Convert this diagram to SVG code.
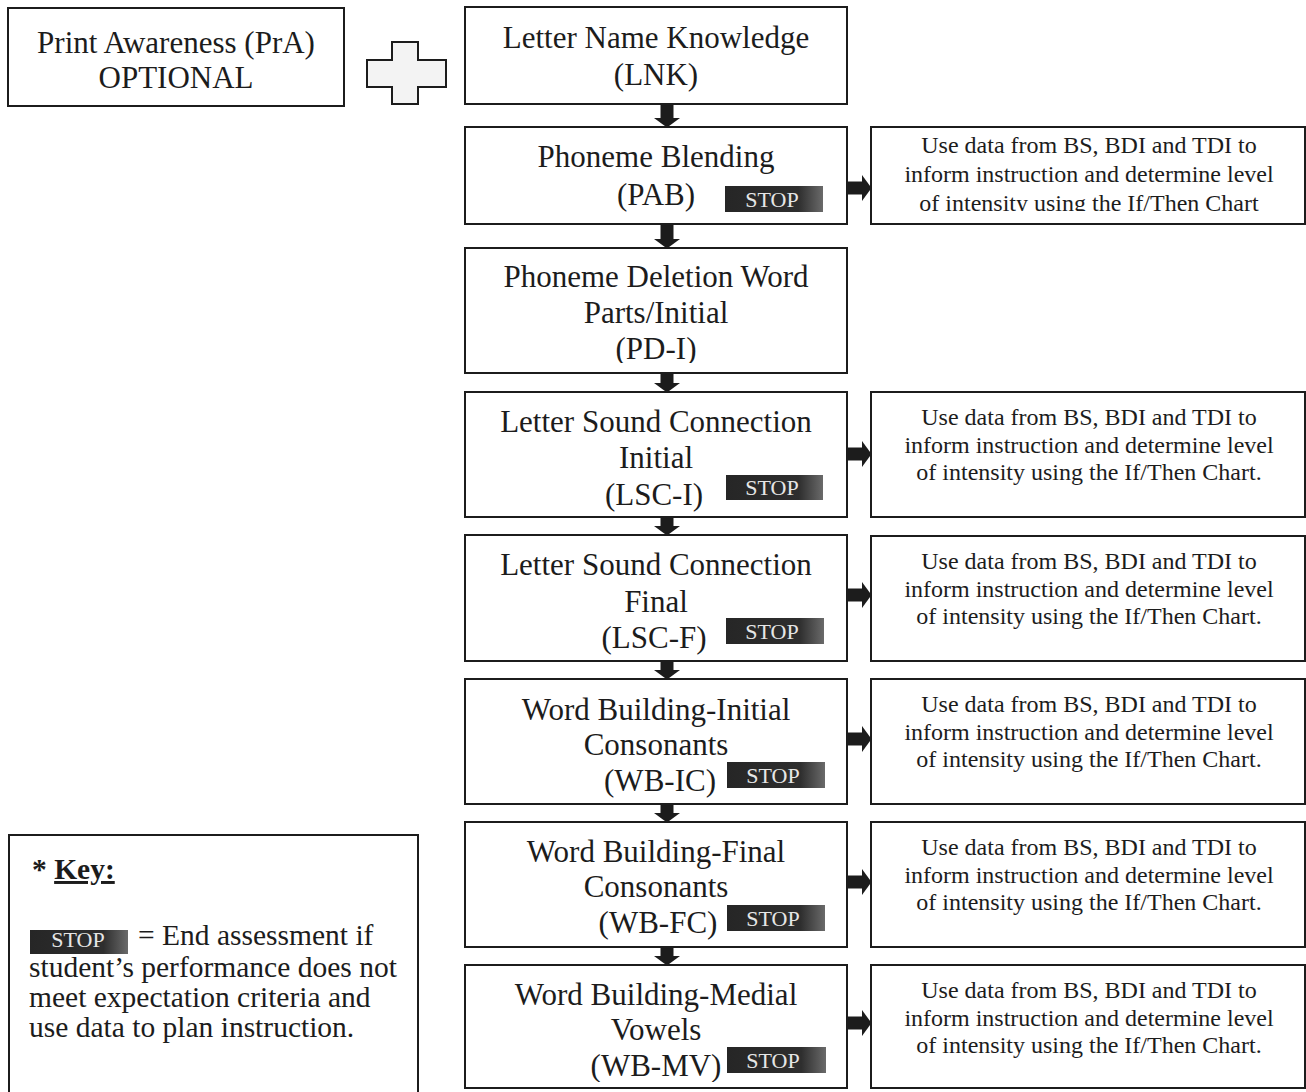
<svg xmlns="http://www.w3.org/2000/svg" width="1306" height="1092" viewBox="0 0 1306 1092">
<style>
.box{fill:#fff;stroke:#1c1c1c;stroke-width:2}
.t{font-family:"Liberation Serif","Times New Roman",serif;font-size:31px;fill:#1c1c1c;text-anchor:middle}
.r{font-family:"Liberation Serif","Times New Roman",serif;font-size:24px;fill:#1c1c1c;text-anchor:middle}
.k{font-family:"Liberation Serif","Times New Roman",serif;font-size:29.5px;fill:#1c1c1c}
.stop{fill:url(#sg)}
.st{font-family:"Liberation Serif","Times New Roman",serif;font-size:22px;fill:#e6e6e6;text-anchor:middle}
.conn{stroke:#1c1c1c;stroke-width:13;fill:none}
</style>
<defs>
<linearGradient id="sg" x1="0" y1="0" x2="1" y2="0">
<stop offset="0" stop-color="#262626"/>
<stop offset="0.75" stop-color="#2e2e2e"/>
<stop offset="1" stop-color="#6a6a6a"/>
</linearGradient>
<marker id="ah" markerUnits="userSpaceOnUse" markerWidth="10" markerHeight="26" refX="0" refY="13" orient="auto">
<path d="M0,0 L9.5,13 L0,26 Z" fill="#1c1c1c"/>
</marker>
<clipPath id="cPAB"><rect x="871" y="128" width="433" height="83"/></clipPath>
<clipPath id="cPD"><rect x="466" y="249" width="380" height="114"/></clipPath>
<clipPath id="cLSCI"><rect x="466" y="393" width="380" height="119"/></clipPath>
<clipPath id="cLSCF"><rect x="466" y="536" width="380" height="119"/></clipPath>
<clipPath id="cWBIC"><rect x="466" y="680" width="380" height="118"/></clipPath>
<clipPath id="cWBFC"><rect x="466" y="823" width="380" height="118"/></clipPath>
<clipPath id="cWBMV"><rect x="466" y="966" width="380" height="116"/></clipPath>
</defs>
<rect width="1306" height="1092" fill="#fff"/>

<g id="pra">
<rect class="box" x="8" y="8" width="336" height="98"/>
<text class="t" x="176" y="53" font-size="32">Print Awareness (PrA)</text>
<text class="t" x="176" y="88" font-size="32">OPTIONAL</text>
</g>

<g id="plus">
<polygon points="392,42 418,42 418,60 446,60 446,87 418,87 418,104 392,104 392,87 367,87 367,60 392,60" fill="#f3f3f3" stroke="#1c1c1c" stroke-width="2"/>
</g>

<g id="lnk">
<rect class="box" x="465" y="7" width="382" height="97"/>
<text class="t" x="656" y="48">Letter Name Knowledge</text>
<text class="t" x="656" y="85">(LNK)</text>
</g>

<g id="pab">
<rect class="box" x="465" y="127" width="382" height="97"/>
<text class="t" x="656" y="167">Phoneme Blending</text>
<text class="t" x="656" y="205">(PAB)</text>
<rect class="stop" x="725" y="186" width="98" height="26"/>
<text class="st" x="772" y="207">STOP</text>
</g>

<g id="pab-info">
<rect class="box" x="871" y="127" width="434" height="97"/>
<g clip-path="url(#cPAB)">
<text class="r" x="1089" y="153">Use data from BS, BDI and TDI to</text>
<text class="r" x="1089" y="182">inform instruction and determine level</text>
<text class="r" x="1089" y="211">of intensity using the If/Then Chart</text>
</g>
</g>

<g id="pdi">
<rect class="box" x="465" y="248" width="382" height="125"/>
<g clip-path="url(#cPD)">
<text class="t" x="656" y="287">Phoneme Deletion Word</text>
<text class="t" x="656" y="323">Parts/Initial</text>
<text class="t" x="656" y="359">(PD-I)</text>
</g>
</g>

<g id="lsci">
<rect class="box" x="465" y="392" width="382" height="125"/>
<g clip-path="url(#cLSCI)">
<text class="t" x="656" y="432">Letter Sound Connection</text>
<text class="t" x="656" y="468">Initial</text>
<text class="t" x="654" y="505">(LSC-I)</text>
</g>
<rect class="stop" x="726" y="475" width="97" height="25"/>
<text class="st" x="772" y="495">STOP</text>
</g>

<g id="lsci-info">
<rect class="box" x="871" y="392" width="434" height="125"/>
<text class="r" x="1089" y="425">Use data from BS, BDI and TDI to</text>
<text class="r" x="1089" y="453">inform instruction and determine level</text>
<text class="r" x="1089" y="480">of intensity using the If/Then Chart.</text>
</g>

<g id="lscf">
<rect class="box" x="465" y="535" width="382" height="126"/>
<g clip-path="url(#cLSCF)">
<text class="t" x="656" y="575">Letter Sound Connection</text>
<text class="t" x="656" y="612">Final</text>
<text class="t" x="654" y="648">(LSC-F)</text>
</g>
<rect class="stop" x="726" y="618" width="98" height="26"/>
<text class="st" x="772" y="639">STOP</text>
</g>

<g id="lscf-info">
<rect class="box" x="871" y="536" width="434" height="125"/>
<text class="r" x="1089" y="569">Use data from BS, BDI and TDI to</text>
<text class="r" x="1089" y="597">inform instruction and determine level</text>
<text class="r" x="1089" y="624">of intensity using the If/Then Chart.</text>
</g>

<g id="wbic">
<rect class="box" x="465" y="679" width="382" height="125"/>
<g clip-path="url(#cWBIC)">
<text class="t" x="656" y="720">Word Building-Initial</text>
<text class="t" x="656" y="755">Consonants</text>
<text class="t" x="660" y="791">(WB-IC)</text>
</g>
<rect class="stop" x="727" y="762" width="98" height="26"/>
<text class="st" x="773" y="783">STOP</text>
</g>

<g id="wbic-info">
<rect class="box" x="871" y="679" width="434" height="125"/>
<text class="r" x="1089" y="712">Use data from BS, BDI and TDI to</text>
<text class="r" x="1089" y="740">inform instruction and determine level</text>
<text class="r" x="1089" y="767">of intensity using the If/Then Chart.</text>
</g>

<g id="wbfc">
<rect class="box" x="465" y="822" width="382" height="125"/>
<g clip-path="url(#cWBFC)">
<text class="t" x="656" y="862">Word Building-Final</text>
<text class="t" x="656" y="897">Consonants</text>
<text class="t" x="658" y="933">(WB-FC)</text>
</g>
<rect class="stop" x="727" y="905" width="98" height="26"/>
<text class="st" x="773" y="926">STOP</text>
</g>

<g id="wbfc-info">
<rect class="box" x="871" y="822" width="434" height="125"/>
<text class="r" x="1089" y="855">Use data from BS, BDI and TDI to</text>
<text class="r" x="1089" y="883">inform instruction and determine level</text>
<text class="r" x="1089" y="910">of intensity using the If/Then Chart.</text>
</g>

<g id="wbmv">
<rect class="box" x="465" y="965" width="382" height="123"/>
<g clip-path="url(#cWBMV)">
<text class="t" x="656" y="1005">Word Building-Medial</text>
<text class="t" x="656" y="1040">Vowels</text>
<text class="t" x="656" y="1076">(WB-MV)</text>
</g>
<rect class="stop" x="727" y="1047" width="99" height="26"/>
<text class="st" x="773" y="1068">STOP</text>
</g>

<g id="wbmv-info">
<rect class="box" x="871" y="965" width="434" height="123"/>
<text class="r" x="1089" y="998">Use data from BS, BDI and TDI to</text>
<text class="r" x="1089" y="1026">inform instruction and determine level</text>
<text class="r" x="1089" y="1053">of intensity using the If/Then Chart.</text>
</g>

<g id="key">
<rect class="box" x="9" y="835" width="409" height="270"/>
<text class="k" x="32" y="879" font-size="30" font-weight="bold">* <tspan text-decoration="underline">Key:</tspan></text>
<rect class="stop" x="30" y="930" width="98" height="24"/>
<text class="st" x="78" y="947" font-size="18">STOP</text>
<text class="k" x="138" y="945">= End assessment if</text>
<text class="k" x="29" y="977">student’s performance does not</text>
<text class="k" x="29" y="1007">meet expectation criteria and</text>
<text class="k" x="29" y="1037">use data to plan instruction.</text>
</g>

<g id="connectors">
<line class="conn" x1="667" y1="104" x2="667" y2="118" marker-end="url(#ah)"/>
<line class="conn" x1="667" y1="224" x2="667" y2="239" marker-end="url(#ah)"/>
<line class="conn" x1="667" y1="373" x2="667" y2="383" marker-end="url(#ah)"/>
<line class="conn" x1="667" y1="517" x2="667" y2="526" marker-end="url(#ah)"/>
<line class="conn" x1="667" y1="661" x2="667" y2="670" marker-end="url(#ah)"/>
<line class="conn" x1="667" y1="804" x2="667" y2="813" marker-end="url(#ah)"/>
<line class="conn" x1="667" y1="947" x2="667" y2="956" marker-end="url(#ah)"/>
<line class="conn" x1="847" y1="188" x2="862" y2="188" marker-end="url(#ah)"/>
<line class="conn" x1="847" y1="454" x2="862" y2="454" marker-end="url(#ah)"/>
<line class="conn" x1="847" y1="595" x2="862" y2="595" marker-end="url(#ah)"/>
<line class="conn" x1="847" y1="739" x2="862" y2="739" marker-end="url(#ah)"/>
<line class="conn" x1="847" y1="882" x2="862" y2="882" marker-end="url(#ah)"/>
<line class="conn" x1="847" y1="1023" x2="862" y2="1023" marker-end="url(#ah)"/>
</g>
</svg>
